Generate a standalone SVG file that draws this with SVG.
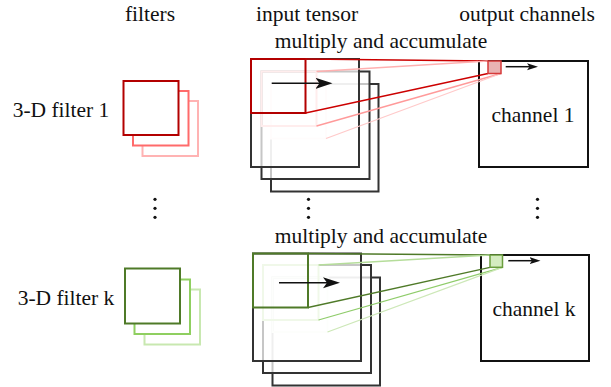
<svg xmlns="http://www.w3.org/2000/svg" width="611" height="387" viewBox="0 0 611 387">
<defs>
<style>
text{font-family:'Liberation Serif','DejaVu Serif',serif;font-size:21.5px;fill:#111;text-anchor:middle}
.box{fill:#fff;stroke-width:2}
.ten{fill:#fff;fill-opacity:0.72;stroke:#333;stroke-width:2}
.win{fill:none;stroke-width:2}
.ch{fill:#fff;stroke:#111;stroke-width:2}
.ln{fill:none;stroke-width:1.3}
.arr{fill:none;stroke:#111;stroke-width:1.5}
.dot{fill:#111}
</style>
<marker id="bigHead" markerUnits="userSpaceOnUse" markerWidth="18" markerHeight="12" refX="10" refY="5.5" orient="auto">
<path d="M0,0 L17,5.5 L0,11 L4,5.5 Z" fill="#111"/>
</marker>
<marker id="smallHead" markerUnits="userSpaceOnUse" markerWidth="12" markerHeight="8" refX="5" refY="3.5" orient="auto">
<path d="M0,0 L11,3.5 L0,7 L2.5,3.5 Z" fill="#111"/>
</marker>
</defs>

<g id="headers" font-family="Liberation Serif, serif">
<text x="150" y="21">filters</text>
<text x="307" y="21">input tensor</text>
<text x="527" y="21">output channels</text>
</g>

<g id="filter1">
<rect class="box" x="142.5" y="101" width="55.5" height="55" stroke="#ffb3b3"/>
<rect class="box" x="133" y="91" width="55.5" height="54.5" stroke="#ff6b6b"/>
<rect class="box" x="123.5" y="81" width="55" height="54" stroke="#b30000"/>
<text x="61" y="117" font-family="Liberation Serif, serif">3-D filter 1</text>
</g>

<g id="tensor1">
<rect class="ten" x="271" y="84" width="107.5" height="107.5"/>
<rect class="win" x="271" y="84" width="55" height="54.5" stroke="#ffd2d2"/>
<rect class="ten" x="261.5" y="71.5" width="108" height="107.5"/>
<rect class="win" x="261.5" y="71.5" width="55" height="54.5" stroke="#ffbdbd"/>
<rect class="ten" x="251" y="59" width="108" height="108"/>
<rect class="win" x="251" y="59" width="54.5" height="54" stroke="#b30000"/>
</g>

<g id="output1">
<rect class="ch" x="479" y="61" width="109" height="106"/>
<text x="533" y="122" font-family="Liberation Serif, serif">channel 1</text>
</g>

<g id="filterk">
<rect class="box" x="144.5" y="289.5" width="55.5" height="55" stroke="#c8e8b0"/>
<rect class="box" x="134.5" y="279.5" width="55.5" height="54.5" stroke="#8fcf60"/>
<rect class="box" x="125" y="268.5" width="55" height="55" stroke="#4f7a28"/>
<text x="66" y="305" font-family="Liberation Serif, serif">3-D filter k</text>
</g>

<g id="tensork">
<rect class="ten" x="272.5" y="277.5" width="107.5" height="108"/>
<rect class="win" x="272.5" y="277.5" width="55" height="54.5" stroke="#e2f2d6"/>
<rect class="ten" x="263" y="265" width="108" height="108"/>
<rect class="win" x="263" y="265" width="55.5" height="55" stroke="#c8e6b0"/>
<rect class="ten" x="253" y="253.5" width="108" height="107.5"/>
<rect class="win" x="253" y="253.5" width="55" height="54" stroke="#4f7a28"/>
</g>

<g id="outputk">
<rect class="ch" x="481" y="255" width="108" height="106"/>
<text x="534" y="316" font-family="Liberation Serif, serif">channel k</text>
</g>

<g id="mac-labels" font-family="Liberation Serif, serif">
<text x="381" y="48">multiply and accumulate</text>
<text x="381" y="243">multiply and accumulate</text>
</g>

<g id="connectors">
<line class="ln" x1="305.5" y1="59" x2="488" y2="61" stroke="#cc0000"/>
<line class="ln" x1="316.5" y1="71.5" x2="488" y2="61" stroke="#ffb0b0"/>
<line class="ln" x1="305.5" y1="113" x2="488" y2="73.5" stroke="#cc0000"/>
<line class="ln" x1="316.5" y1="126" x2="501" y2="73.5" stroke="#ff9a9a"/>
<line class="ln" x1="326" y1="138.5" x2="501" y2="73.5" stroke="#ffcaca"/>
<rect x="488" y="61" width="13" height="12.5" fill="#e9b2b2" stroke="#d63a3a" stroke-width="1.5"/>

<line class="ln" x1="308" y1="253.5" x2="490" y2="255" stroke="#4f7a28"/>
<line class="ln" x1="318.5" y1="265" x2="490" y2="255" stroke="#b5dd9a"/>
<line class="ln" x1="308" y1="307.5" x2="490" y2="267.3" stroke="#4f7a28"/>
<line class="ln" x1="318.5" y1="320" x2="502.5" y2="267.3" stroke="#8fcc6a"/>
<line class="ln" x1="327.5" y1="332" x2="502.5" y2="267.3" stroke="#cde8b8"/>
<rect x="490" y="255" width="12.5" height="12.3" fill="#d4ecc0" stroke="#6b9e3e" stroke-width="1.5"/>

<line class="arr" x1="271.7" y1="83.3" x2="325.5" y2="83.3" marker-end="url(#bigHead)"/>
<line class="arr" x1="505.7" y1="66.7" x2="532" y2="66.7" marker-end="url(#smallHead)"/>
<line class="arr" x1="279" y1="282.7" x2="333" y2="282.7" marker-end="url(#bigHead)"/>
<line class="arr" x1="508.3" y1="260.7" x2="534.5" y2="260.7" marker-end="url(#smallHead)"/>
</g>

<g id="ellipses">
<circle class="dot" cx="155" cy="199.3" r="1.6"/>
<circle class="dot" cx="155" cy="208.3" r="1.6"/>
<circle class="dot" cx="155" cy="217.3" r="1.6"/>
<circle class="dot" cx="308.5" cy="199.3" r="1.6"/>
<circle class="dot" cx="308.5" cy="208.3" r="1.6"/>
<circle class="dot" cx="308.5" cy="217.3" r="1.6"/>
<circle class="dot" cx="537.5" cy="199.3" r="1.6"/>
<circle class="dot" cx="537.5" cy="208.3" r="1.6"/>
<circle class="dot" cx="537.5" cy="217.3" r="1.6"/>
</g>
</svg>
